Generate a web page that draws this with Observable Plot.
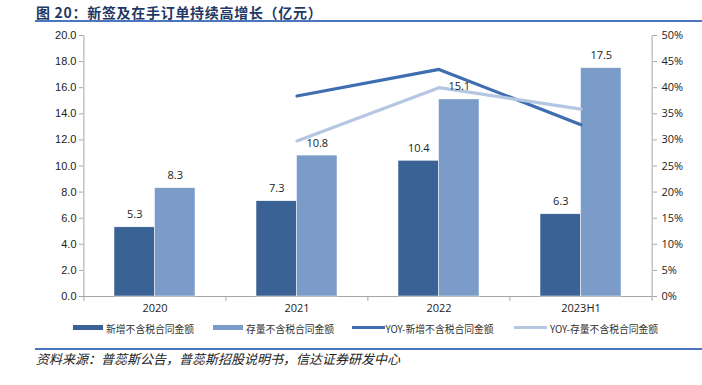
<!DOCTYPE html>
<html>
<head>
<meta charset="utf-8">
<script src="https://cdn.jsdelivr.net/npm/d3@7"></script>
<script src="https://cdn.jsdelivr.net/npm/@observablehq/plot@0.6"></script>
<style>
  html, body { margin: 0; padding: 0; background: #fff; }
  body { width: 702px; height: 385px; position: relative; overflow: hidden; font-family: "Noto Sans CJK SC", "Liberation Sans", sans-serif; }
  #title { position: absolute; left: 36px; top: 2px; font-size: 14px; font-weight: bold; color: #1f3763; white-space: nowrap; letter-spacing: 0.7px; }
  #tline { position: absolute; left: 35px; right: 0; top: 20px; height: 2px; background: #4a76c0; }
  #chart { position: absolute; left: 0; top: 0; }
  #legend { position: absolute; left: 0; top: 320px; width: 702px; height: 18px; font-size: 9.8px; color: #333; }
  .li { position: absolute; top: 0; white-space: nowrap; line-height: 18px; }
  .sw { position: absolute; }
  #sline { position: absolute; left: 35px; right: 0; top: 347.5px; height: 2px; background: #4a76c0; }
  #source { position: absolute; left: 36px; top: 349px; font-size: 13px; font-style: italic; color: #222; white-space: nowrap; }
</style>
</head>
<body>
<div id="title">图 20：新签及在手订单持续高增长（亿元）</div>
<div id="tline"></div>
<div id="chart"></div>
<div id="legend"></div>
<div id="sline"></div>
<div id="source">资料来源：普蕊斯公告，普蕊斯招股说明书，信达证券研发中心</div>
<script>
// ---- data ----
const categories = ["2020", "2021", "2022", "2023H1"];
const newContract = [5.3, 7.3, 10.4, 6.3];          // 新增不含税合同金额 (亿元)
const backlog = [8.3, 10.8, 15.1, 17.5];            // 存量不含税合同金额 (亿元)
const yoyCats = ["2021", "2022", "2023H1"];
const yoyNew = [38.4, 43.5, 32.9];                  // YOY-新增 (%)
const yoyBacklog = [29.8, 40.0, 35.9];              // YOY-存量 (%)
const leftTicks = [0, 2, 4, 6, 8, 10, 12, 14, 16, 18, 20];
const rightTicks = [0, 5, 10, 15, 20, 25, 30, 35, 40, 45, 50];
const seriesNames = ["新增不含税合同金额", "存量不含税合同金额", "YOY-新增不含税合同金额", "YOY-存量不含税合同金额"];

const C_DARK = "#3b6294", C_LIGHT = "#7b9cc8", C_LINE1 = "#3e6db0", C_LINE2 = "#b4c6e2", AX = "#a6a6a6";

const W = 702, H = 320, ML = 83, MR = 50, MT = 35, MB = 24;
const halfStep = (W - ML - MR) / categories.length / 2;
const ratio = 20 / 50; // right axis % -> left axis units

const bars = categories.map((c, i) => ({cat: c, a: newContract[i], b: backlog[i]}));
const l1 = yoyCats.map((c, i) => ({cat: c, v: yoyNew[i]}));
const l2 = yoyCats.map((c, i) => ({cat: c, v: yoyBacklog[i]}));

const font = "'Liberation Sans', 'Noto Sans CJK SC', sans-serif";

const plot = Plot.plot({
  width: W, height: H,
  marginLeft: ML, marginRight: MR, marginTop: MT, marginBottom: MB,
  style: {fontFamily: font, fontSize: "11px", color: "#222", background: "transparent"},
  x: {domain: categories, type: "band", paddingInner: 0.43, paddingOuter: 0.215},
  y: {domain: [0, 20]},
  marks: [
    // left/right axis lines and baseline
    Plot.ruleX([categories[0]], {x: d => d, dx: -halfStep, y1: 0, y2: 20, stroke: AX}),
    Plot.ruleX([categories[categories.length - 1]], {x: d => d, dx: halfStep, y1: 0, y2: 20, stroke: AX}),
    Plot.ruleY([0], {stroke: AX}),
    // category boundary ticks on x axis
    Plot.ruleX(categories, {x: d => d, dx: -halfStep, y1: 0, y2: -0.38, stroke: AX}),
    Plot.ruleX([categories[categories.length - 1]], {x: d => d, dx: halfStep, y1: 0, y2: -0.38, stroke: AX}),
    // bars: dark left half, light right half of each band
    Plot.barY(bars, {x: "cat", y: "a", fill: C_DARK, insetRight: 40.5, stroke: "white", strokeWidth: 0.5}),
    Plot.barY(bars, {x: "cat", y: "b", fill: C_LIGHT, insetLeft: 40.5, stroke: "white", strokeWidth: 0.5}),
    // lines on right axis
    Plot.line(l1, {x: "cat", y: d => d.v * ratio, stroke: C_LINE1, strokeWidth: 3.2, curve: "linear"}),
    Plot.line(l2, {x: "cat", y: d => d.v * ratio, stroke: C_LINE2, strokeWidth: 3.2, curve: "linear"}),
    // value labels
    Plot.text(bars, {x: "cat", y: "a", text: d => d.a.toFixed(1), dx: -20.25, dy: -9, lineAnchor: "bottom", fill: "#222", fontFamily: "'Open Sans', sans-serif", fontSize: 11}),
    Plot.text(bars, {x: "cat", y: "b", text: d => d.b.toFixed(1), dx: 20.25, dy: -9, lineAnchor: "bottom", fill: "#222", fontFamily: "'Open Sans', sans-serif", fontSize: 11}),
    // axes
    Plot.axisY(leftTicks, {anchor: "left", tickSize: 4, tickPadding: 3, stroke: AX, tickFormat: d => d.toFixed(1), fill: "#222", label: null}),
    Plot.axisY(rightTicks.map(d => d * ratio), {anchor: "right", tickSize: 4, tickPadding: 5, stroke: AX, tickFormat: d => Math.round(d / ratio) + "%", fill: "#222", label: null, fontFamily: "'Open Sans', sans-serif"}),
    Plot.axisX({tickSize: 0, tickPadding: 8, fill: "#222", label: null, fontFamily: "'Open Sans', sans-serif"})
  ]
});
document.getElementById("chart").appendChild(plot);

// legend
const legend = document.getElementById("legend");
const items = [
  {x: 72.5, w: 30.5, kind: "rect", color: C_DARK, tx: 106},
  {x: 212.5, w: 30.5, kind: "rect", color: C_LIGHT, tx: 246},
  {x: 351.5, w: 33, kind: "line", color: C_LINE1, tx: 385.5},
  {x: 514, w: 33, kind: "line", color: C_LINE2, tx: 550}
];
items.forEach((it, i) => {
  const sw = document.createElement("div");
  sw.className = "sw";
  sw.style.left = it.x + "px";
  sw.style.width = it.w + "px";
  if (it.kind === "rect") { sw.style.top = "5px"; sw.style.height = "4.5px"; }
  else { sw.style.top = "6.3px"; sw.style.height = "3px"; }
  sw.style.background = it.color;
  legend.appendChild(sw);
  const t = document.createElement("div");
  t.className = "li";
  t.style.left = it.tx + "px";
  t.textContent = seriesNames[i];
  legend.appendChild(t);
});
</script>
</body>
</html>
